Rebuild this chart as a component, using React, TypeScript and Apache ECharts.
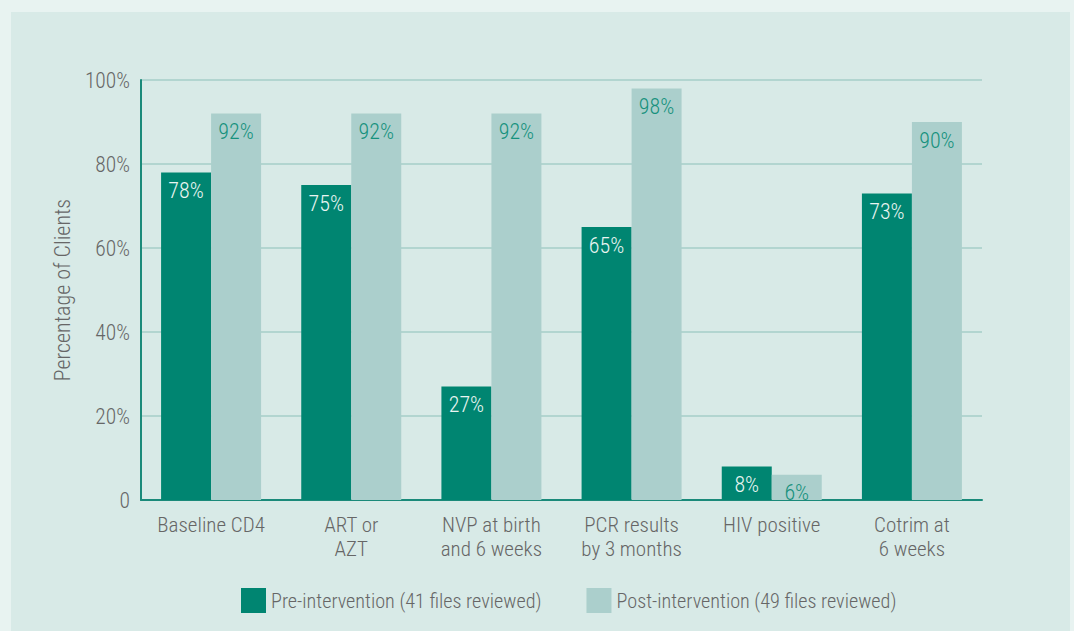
import React, { useEffect, useRef } from "react";
import * as echarts from "echarts";

const categories = ["Baseline CD4", "ART or\nAZT", "NVP at birth\nand 6 weeks", "PCR results\nby 3 months", "HIV positive", "Cotrim at\n6 weeks"];
const preValues = [78, 75, 27, 65, 8, 73];
const postValues = [92, 92, 92, 98, 6, 90];
const seriesNames = ["Pre-intervention (41 files reviewed)", "Post-intervention (49 files reviewed)"];
const yTicks = [0, 20, 40, 60, 80, 100];

const FONT = "'Roboto Condensed', 'Liberation Sans Narrow', 'DejaVu Sans Condensed', Roboto, sans-serif";
const W = 300;

export default function App() {
  const ref = useRef<HTMLDivElement>(null);
  useEffect(() => {
    const chart = echarts.init(ref.current!, undefined, { renderer: "svg" });
    chart.setOption({
      animation: false,
      backgroundColor: "#e8f3f1",
      textStyle: { fontFamily: FONT, fontWeight: W },
      graphic: [
        { type: "rect", z: -10, shape: { x: 11, y: 12, width: 1059, height: 625 }, style: { fill: "#d8eae7" }, silent: true },
      ],
      grid: { left: 141, top: 80, right: 92, bottom: 131 },
      legend: {
        left: 236,
        top: 583,
        itemWidth: 25,
        itemHeight: 25,
        itemGap: 45,
        icon: "rect",
        textStyle: { fontSize: 20.2, color: "#666", fontFamily: FONT, fontWeight: W },
        data: seriesNames,
      },
      xAxis: {
        type: "category",
        data: categories,
        axisLine: { lineStyle: { color: "#1a8a7a", width: 2 } },
        axisTick: { show: false },
        axisLabel: { color: "#666", fontSize: 21, lineHeight: 24, margin: 13, fontFamily: FONT, fontWeight: W, interval: 0 },
      },
      yAxis: {
        type: "value",
        min: 0,
        max: 100,
        interval: 20,
        name: "Percentage of Clients",
        nameLocation: "middle",
        nameGap: 58,
        nameTextStyle: { color: "#666", fontSize: 22, fontFamily: FONT, fontWeight: W },
        axisLine: { show: true, lineStyle: { color: "#1a8a7a", width: 2 } },
        axisTick: { show: false },
        axisLabel: {
          color: "#666",
          fontSize: 21.5,
          margin: 11,
          fontFamily: FONT,
          fontWeight: W,
          formatter: (v: number) => (yTicks.includes(v) ? (v === 0 ? "0" : v + "%") : ""),
        },
        splitLine: { lineStyle: { color: "#b2d5d0", width: 2 } },
      },
      series: [
        {
          name: seriesNames[0],
          type: "bar",
          data: preValues,
          barWidth: 50,
          barGap: "0%",
          itemStyle: { color: "#008571" },
          label: {
            show: true,
            position: "insideTop",
            distance: 7,
            formatter: "{c}%",
            color: "#eaf5f2",
            fontSize: 22,
            fontFamily: FONT,
            fontWeight: W,
          },
        },
        {
          name: seriesNames[1],
          type: "bar",
          data: postValues,
          barWidth: 50,
          barGap: "0%",
          itemStyle: { color: "#abcfcc" },
          label: {
            show: true,
            position: "insideTop",
            distance: 7,
            formatter: "{c}%",
            color: "#16917d",
            fontSize: 22,
            fontFamily: FONT,
            fontWeight: W,
          },
        },
      ],
    });
    return () => chart.dispose();
  }, []);
  return <div ref={ref} style={{ position: "fixed", left: 0, top: 0, width: 1074, height: 631 }} />;
}
